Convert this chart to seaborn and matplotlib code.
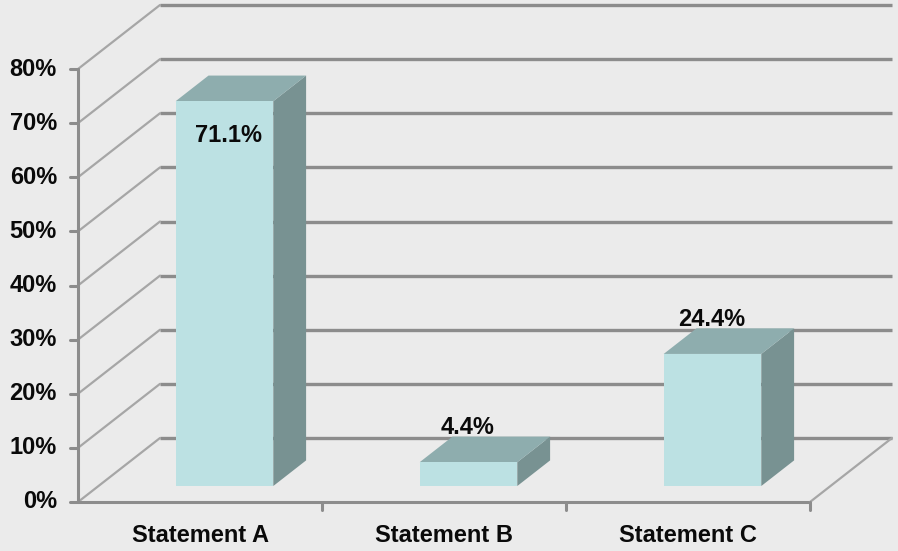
import matplotlib
matplotlib.use("Agg")
import matplotlib.pyplot as plt
from matplotlib import transforms, font_manager
from matplotlib.patches import Polygon
import pandas as pd
import seaborn as sns

# --- data -------------------------------------------------------------
categories = ["Statement A", "Statement B", "Statement C"]
shares = [71.1, 4.4, 24.4]
value_labels = ["71.1%", "4.4%", "24.4%"]
y_ticks = [0, 10, 20, 30, 40, 50, 60, 70, 80]
y_tick_labels = ["0%", "10%", "20%", "30%", "40%", "50%", "60%", "70%", "80%"]

# --- style ------------------------------------------------------------
BG = "#EBEBEB"
FRONT = "#BCE1E3"
TOP = "#8EADAE"
SIDE = "#789292"
GRID = "#8C8C8C"
WALL = "#A6A6A6"
INK = "#0A0A0A"

sns.set_theme(style="white")
available = {f.name for f in font_manager.fontManager.ttflist}
family = "Liberation Sans Narrow" if "Liberation Sans Narrow" in available else "Liberation Sans"
plt.rcParams["font.family"] = [family, "DejaVu Sans"]
FS = 19 if family == "Liberation Sans Narrow" else 17

W, H = 898, 551
fig = plt.figure(figsize=(W / 100, H / 100), dpi=100)
fig.patch.set_facecolor(BG)
ax = fig.add_axes([0, 0, 1, 1])
ax.set_facecolor(BG)

# pixel geometry of the front plane of the chart box
X0_PX, CAT_PX = 78, 244.0          # left edge of category range, pixels per category
Y0_PX, PCT_PX = 502, 5.4125        # baseline row, pixels per percent
DX = 82 / CAT_PX                   # oblique depth offset (x, categories)
DY = 64 / PCT_PX                   # oblique depth offset (y, percent)
Z0, Z1 = 0.25, 0.65                # depth range occupied by the bars
NUDGE = 4 / CAT_PX                 # bars sit slightly right of the slot centre
n = len(categories)


def proj(x, y, z):
    return x + z * DX, y + z * DY


# bars (front faces) through seaborn
df = pd.DataFrame({"statement": categories, "share": shares})
sns.barplot(data=df, x="statement", y="share", width=0.4, color=FRONT,
            saturation=1, errorbar=None, linewidth=0, ax=ax, zorder=5)

xlim = (-0.5 - X0_PX / CAT_PX, -0.5 + (W - X0_PX) / CAT_PX)
ylim = (-(H - Y0_PX) / PCT_PX, Y0_PX / PCT_PX)
ax.set_xlim(*xlim)
ax.set_ylim(*ylim)
ax.set_axis_off()

# back wall gridlines
for t in y_ticks:
    x1, y1 = proj(-0.5, t, 1)
    x2, y2 = proj(n - 0.5, t, 1)
    ax.plot([x1, x2], [y1, y2], color=GRID, lw=2.4, solid_capstyle="butt", zorder=1)

# side wall diagonals
for t in y_ticks:
    x1, y1 = proj(-0.5, t, 0)
    x2, y2 = proj(-0.5, t, 1)
    ax.plot([x1, x2], [y1, y2], color=WALL, lw=1.6, zorder=2)

# floor edges
fx1, fy1 = proj(-0.5, 0, 0)
fx2, fy2 = proj(n - 0.5, 0, 0)
ax.plot([fx1, fx2], [fy1, fy2], color=GRID, lw=2.2, zorder=3)
bx, by = proj(n - 0.5, 0, 1)
ax.plot([fx2, bx], [fy2, by], color=WALL, lw=1.6, zorder=3)

# value axis line and ticks
ax.plot([-0.5, -0.5], [0, y_ticks[-1]], color=GRID, lw=2.2, zorder=3)
tick_len = 8 / CAT_PX
for t, lab in zip(y_ticks, y_tick_labels):
    ax.plot([-0.5 - tick_len, -0.5], [t, t], color=GRID, lw=2.2, zorder=3)
    ax.text(-0.5 - 21 / CAT_PX, t, lab, ha="right", va="center",
            fontsize=FS, fontweight="bold", color=INK, zorder=6)

# category separators on the floor edge
for k in range(1, n + 1):
    ax.plot([k - 0.5, k - 0.5], [0, -8 / PCT_PX], color=GRID, lw=2.2, zorder=3)
for k, cat in enumerate(categories):
    ax.text(k, -6.2, cat, ha="center", va="center", fontsize=FS,
            fontweight="bold", color=INK, zorder=6)

# push the front faces back into the box and add top/side faces
shift = transforms.Affine2D().translate(Z0 * DX + NUDGE, Z0 * DY) + ax.transData
for k, patch in enumerate(ax.patches[:n]):
    patch.set_transform(shift)
    x_l = patch.get_x() + NUDGE
    x_r = x_l + patch.get_width()
    v = patch.get_height()
    top = [proj(x_l, v, Z0), proj(x_r, v, Z0), proj(x_r, v, Z1), proj(x_l, v, Z1)]
    side = [proj(x_r, 0, Z0), proj(x_r, v, Z0), proj(x_r, v, Z1), proj(x_r, 0, Z1)]
    ax.add_patch(Polygon(side, closed=True, facecolor=SIDE, edgecolor="none", zorder=4))
    ax.add_patch(Polygon(top, closed=True, facecolor=TOP, edgecolor="none", zorder=4))

    cx = (x_l + x_r) / 2
    if v > 60:
        lx, ly = cx + 0.10, v + Z0 * DY - 6.3
    else:
        lx, ly = cx + 0.08, v + Z1 * DY + 1.7
    ax.text(lx, ly, value_labels[k], ha="center", va="center", fontsize=FS,
            fontweight="bold", color=INK, zorder=7)

fig.savefig("out.png", dpi=100, facecolor=BG)
